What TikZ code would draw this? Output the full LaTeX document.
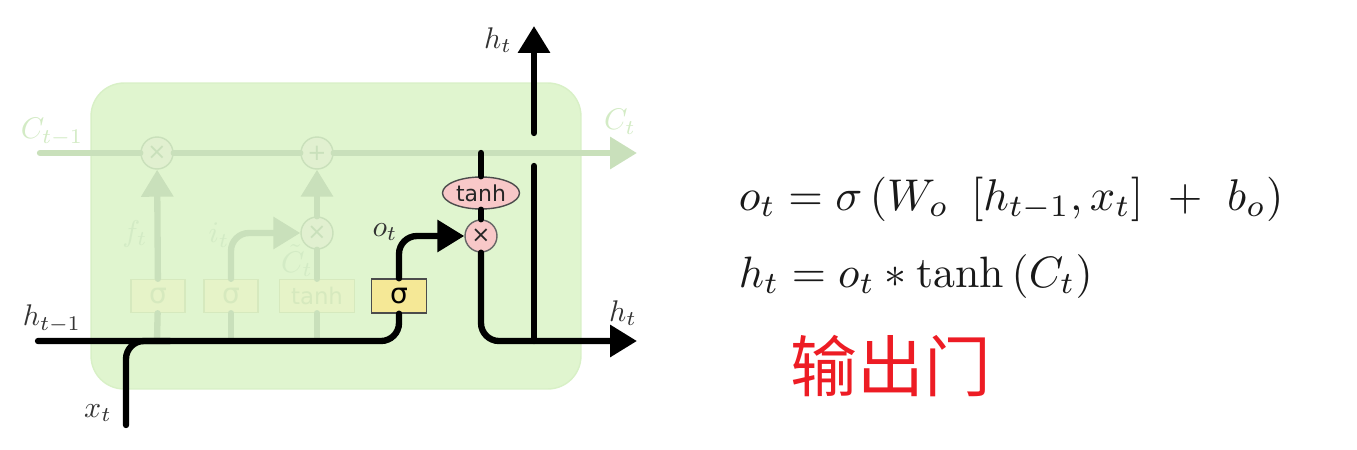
\documentclass[tikz,border=0pt]{standalone}
\usepackage{amsmath}
\usepackage{fontspec}
\usetikzlibrary{arrows.meta, positioning, shapes.geometric}
\newfontfamily\opfont{DejaVu Sans}
\newfontfamily\cjkfont{Noto Sans CJK SC}
\definecolor{cellgreen}{RGB}{224,245,207}
\definecolor{celledge}{RGB}{216,240,198}
\definecolor{fadeline}{RGB}{201,224,187}
\definecolor{fadetext}{RGB}{211,235,197}
\definecolor{fadebox}{RGB}{230,243,200}
\definecolor{fadedge}{RGB}{214,233,190}
\definecolor{fadeop}{RGB}{225,240,208}
\definecolor{gatepink}{RGB}{248,200,200}
\definecolor{gateyellow}{RGB}{245,232,150}
\definecolor{gatered}{RGB}{237,28,36}
\begin{document}
\begin{tikzpicture}[
  x=0.02cm, y=-0.02cm,
  cell/.style={rectangle, rounded corners=0.66cm, draw=celledge, thick, fill=cellgreen,
               minimum width=9.8cm, minimum height=6.12cm},
  flow/.style={-{Triangle[length=0.54cm, width=0.62cm]}, line width=3.6pt, rounded corners=0.36cm, line cap=round},
  wire/.style={line width=3.6pt, rounded corners=0.36cm, line cap=round},
  fadeflow/.style={flow, fadeline},
  fadewire/.style={wire, fadeline},
  layer/.style={rectangle, draw=fadedge, fill=fadebox, text=fadedge, thick, font=\opfont\fontsize{16}{16}\selectfont,
                minimum height=0.66cm, minimum width=1.08cm, inner sep=0pt},
  sigmabox/.style={layer, draw=black!70, fill=gateyellow, text=black, minimum width=1.1cm, minimum height=0.68cm},
  fadeop/.style={circle, draw=fadeline, fill=fadeop, text=fadeline, thick, minimum size=0.64cm, inner sep=0pt,
                 font=\opfont\fontsize{13}{13}\selectfont},
  pinkop/.style={fadeop, draw=black!60, fill=gatepink, text=black!85},
  tanhop/.style={ellipse, draw=black!70, fill=gatepink, thick, text=black!85, font=\opfont\fontsize{12.5}{12.5}\selectfont,
                 minimum width=1.54cm, minimum height=0.64cm, inner sep=0pt},
  var/.style={scale=1.7, inner sep=0pt, text=black!80},
  fadevar/.style={scale=1.7, inner sep=0pt, text=fadetext},
  formula/.style={scale=2.5, inner sep=0pt, anchor=base west, text=black!90}
]
\useasboundingbox (0,0) rectangle (1357,450);

% cell
\node[cell] (lstm) at (336,236) {};

% faded part: cell state
\node[fadeop] (forget) at (157,153) {×};
\node[fadeop] (plus) at (317,153) {+};
\node[fadeop] (mix) at (317,233) {×};
\node[layer] (fbox) at (158,296) {σ};
\node[layer] (ibox) at (231,296) {σ};
\node[layer, minimum width=1.5cm, font=\opfont\fontsize{13}{13}\selectfont] (cbox) at (317,296) {tanh};
\coordinate (cstart) at (40,153);
\coordinate (cend) at (637,153);
\coordinate (ffoot) at (157,341);
\coordinate (ifoot) at (231,341);
\coordinate (cfoot) at (317,341);

\draw[fadewire] (cstart) -- (forget);
\draw[fadewire] (forget) -- (plus);
\draw[fadeflow] (plus) -- (cend);
\draw[fadewire] (ffoot) -- (fbox);
\draw[fadewire] (ifoot) -- (ibox);
\draw[fadewire] (cfoot) -- (cbox);
\draw[fadeflow] (fbox) -- (forget);
\draw[fadeflow] (ibox.north) |- (mix.west);
\draw[fadewire] (cbox) -- (mix);
\draw[fadeflow] (mix) -- (plus);

% output gate
\node[sigmabox] (gate) at (399,296) {σ};
\node[pinkop] (mul) at (481,236) {×};
\node[tanhop] (tanh) at (481,193) {tanh};
\coordinate (hstart) at (38,341);
\coordinate (hjoin) at (170,341);
\coordinate (xstart) at (126,425);
\coordinate (ctap) at (481,153);
\coordinate (hend) at (637,341);
\coordinate (upfoot) at (534,341);
\coordinate (upgap) at (534,166);
\coordinate (upstart) at (534,133);
\coordinate (upend) at (534,26);

\draw[wire] (hstart) -| (gate.south);
\draw[wire] (xstart) |- (hjoin);
\draw[flow] (gate.north) |- (mul.west);
\draw[wire] (ctap) -- (tanh.north);
\draw[wire] (tanh.south) -- (mul.north);
\draw[flow] (mul.south) |- (hend);
\draw[wire] (upfoot) -- (upgap);
\draw[flow] (upstart) -- (upend);

% labels
\node[fadevar] (cprev) at (52,132) {$C_{t-1}$};
\node[fadevar] (cnext) at (620,122) {$C_t$};
\node[fadevar] (flabel) at (135,234) {$f_t$};
\node[fadevar] (ilabel) at (219,235) {$i_t$};
\node[fadevar] (ctilde) at (297,261) {$\tilde{C}_t$};
\node[var] (hprev) at (52,319) {$h_{t-1}$};
\node[var] (xlabel) at (98,413) {$x_t$};
\node[var] (olabel) at (385,232) {$o_t$};
\node[var] (htop) at (498,40) {$h_t$};
\node[var] (hright) at (623,313) {$h_t$};

% equations
\node[formula, scale=1.012] (eqo) at (738,210) {$o_t = \sigma\left(W_o\ \left[h_{t-1},x_t\right]\ +\ b_o\right)$};
\node[formula] (eqh) at (738,287) {$h_t = o_t * \tanh\left(C_t\right)$};
\node[font=\cjkfont\fontsize{38}{38}\selectfont, text=gatered] (title) at (891,366) {输出门};

\end{tikzpicture}
\end{document}
